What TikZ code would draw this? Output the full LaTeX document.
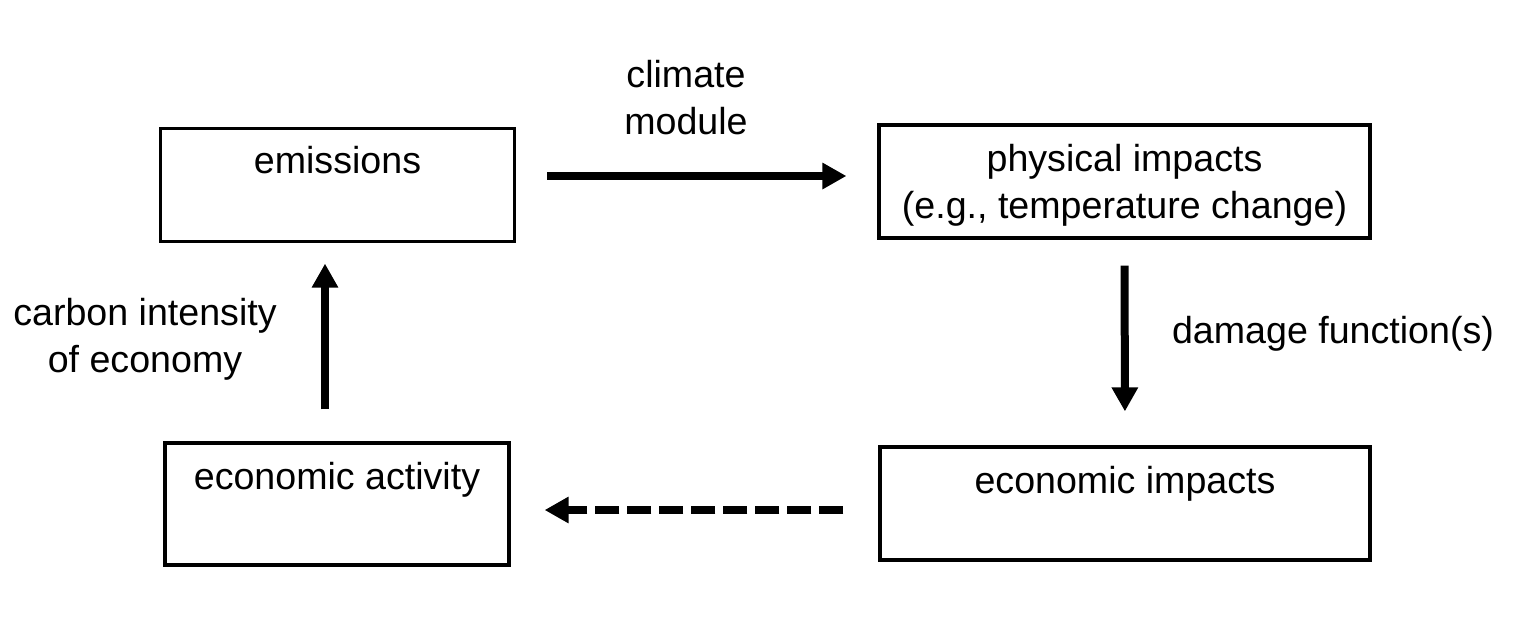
\documentclass[tikz,border=0pt]{standalone}
\usepackage{fontspec}
\setmainfont{Liberation Sans}
\usetikzlibrary{arrows.meta}

\begin{document}
\begin{tikzpicture}[x=0.5pt, y=-0.5pt]
    \tikzset{%
      box/.style={draw, line width=1.6pt, inner sep=0pt},
      txt/.style={align=center, inner sep=0pt, anchor=base,
        font=\fontsize{18.8pt}{23.5pt}\selectfont},
      arr/.style={line width=4pt, -{Triangle[length=12pt, width=12.5pt]}},
      darr/.style={arr, dash pattern=on 12pt off 4pt},
    }
    \useasboundingbox (0,0) rectangle (1530,622);

    % boxes
    \node[box, minimum width=177pt, minimum height=56.5pt] (E) at (337.5,185) {};
    \node[txt] (Et) at (337.5,173) {emissions};

    \node[box, minimum width=245.5pt, minimum height=56.5pt] (P) at (1124.5,181.5) {};
    \node[txt] (Pt) at (1124.5,218) {physical impacts\\(e.g., temperature change)};

    \node[box, minimum width=245pt, minimum height=56.5pt] (I) at (1125,503.5) {};
    \node[txt] (It) at (1125,493) {economic impacts};

    \node[box, minimum width=172pt, minimum height=61pt] (A) at (337,504) {};
    \node[txt] (At) at (337,489) {economic activity};

    % connectors
    \draw[arr, shorten <=15.5pt, shorten >=15.5pt]
      ([yshift=4.5pt]E.east) -- ([yshift=2.75pt]P.west);
    \node[txt] (Lc) at (686,134) {climate\\module};

    \draw[arr, shorten <=13pt, shorten >=17pt] (P.south) -- (I.north);
    \node[txt] (Ld) at (1333,343) {damage function(s)};

    \draw[darr, shorten <=17.5pt, shorten >=17pt]
      ([yshift=-3.25pt]I.west) -- ([yshift=-3pt]A.east);

    \draw[arr, shorten <=16pt, shorten >=10.25pt]
      ([xshift=-6pt]A.north) -- ([xshift=-6.25pt]E.south);
    \node[txt] (Lu) at (145,372) {carbon intensity\\of economy};
\end{tikzpicture}
\end{document}
